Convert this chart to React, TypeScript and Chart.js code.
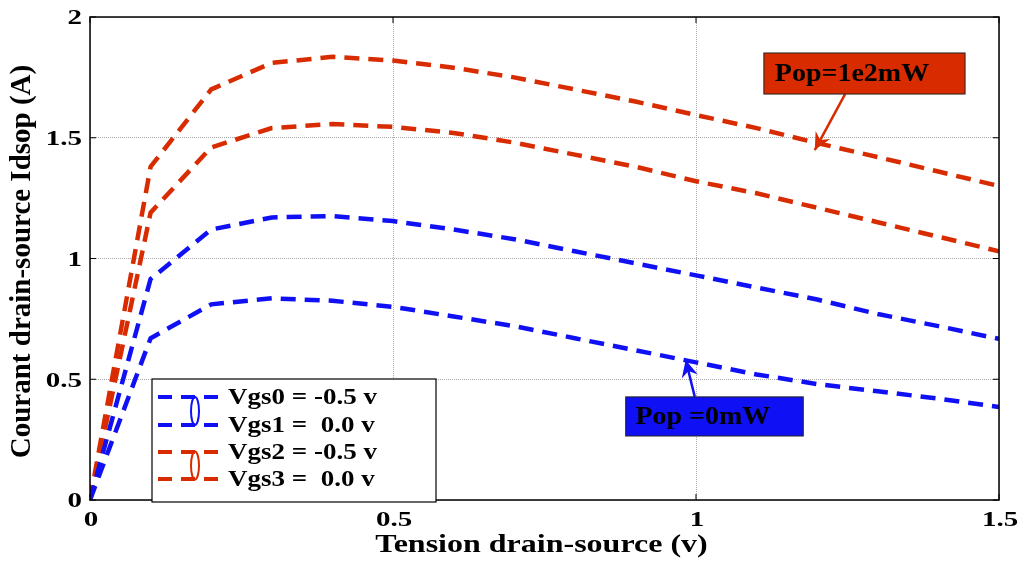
import React, { useEffect, useRef } from "react";
import { Chart, registerables } from "chart.js";

Chart.register(...registerables);

const xValues = [0, 0.1, 0.2, 0.3, 0.4, 0.5, 0.6, 0.7, 0.8, 0.9, 1.0, 1.1, 1.2, 1.3, 1.4, 1.5];
const vgs0 = [0, 0.67, 0.81, 0.835, 0.825, 0.8, 0.76, 0.72, 0.67, 0.62, 0.57, 0.52, 0.48, 0.45, 0.42, 0.385];
const vgs1 = [0, 0.915, 1.12, 1.17, 1.176, 1.155, 1.12, 1.08, 1.03, 0.98, 0.93, 0.88, 0.83, 0.77, 0.72, 0.667];
const vgs2 = [0, 1.19, 1.46, 1.54, 1.557, 1.545, 1.52, 1.48, 1.43, 1.38, 1.32, 1.27, 1.21, 1.15, 1.09, 1.03];
const vgs3 = [0, 1.38, 1.70, 1.81, 1.835, 1.82, 1.79, 1.75, 1.70, 1.65, 1.594, 1.54, 1.478, 1.42, 1.36, 1.30];
const seriesLabels = ["Vgs0 = -0.5 v", "Vgs1 =  0.0 v", "Vgs2 = -0.5 v", "Vgs3 =  0.0 v"];
const xTicks = [0, 0.5, 1, 1.5];
const yTicks = [0, 0.5, 1, 1.5, 2];
const xTitle = "Tension drain-source (v)";
const yTitle = "Courant drain-source Idsop (A)";
const noteRed = "Pop=1e2mW";
const noteBlue = "Pop =0mW";

const BLUE = "#1010f5";
const RED = "#d82c00";
const FONT = "'Liberation Serif', 'Times New Roman', serif";

function txt(
  ctx: CanvasRenderingContext2D,
  s: string,
  x: number,
  y: number,
  size: number,
  align: CanvasTextAlign,
  vs: number,
  rot = 0
) {
  ctx.save();
  ctx.translate(x, y);
  if (rot) ctx.rotate(rot);
  ctx.scale(1, vs);
  ctx.font = `bold ${size}px ${FONT}`;
  ctx.fillStyle = "#000";
  ctx.textAlign = align;
  ctx.textBaseline = "middle";
  ctx.fillText(s, 0, 0);
  ctx.restore();
}

const overlayPlugin = {
  id: "overlay",
  afterDatasetsDraw(chart: any) {
    const ctx = chart.ctx as CanvasRenderingContext2D;
    const { left, right, top, bottom } = chart.chartArea;
    const xs = chart.scales.x;
    const ys = chart.scales.y;
    ctx.save();
    ctx.strokeStyle = "#000";
    ctx.lineWidth = 1.5;
    ctx.strokeRect(left, top, right - left, bottom - top);
    ctx.lineWidth = 1;
    xTicks.forEach((v) => {
      const px = xs.getPixelForValue(v);
      ctx.beginPath();
      ctx.moveTo(px, bottom);
      ctx.lineTo(px, bottom - 6);
      ctx.moveTo(px, top);
      ctx.lineTo(px, top + 6);
      ctx.stroke();
    });
    yTicks.forEach((v) => {
      const py = ys.getPixelForValue(v);
      ctx.beginPath();
      ctx.moveTo(left, py);
      ctx.lineTo(left + 6, py);
      ctx.moveTo(right, py);
      ctx.lineTo(right - 6, py);
      ctx.stroke();
    });

    xTicks.forEach((v) => {
      txt(ctx, String(v), xs.getPixelForValue(v) + 1, bottom + 21, 29, "center", 0.72);
    });
    yTicks.forEach((v) => {
      txt(ctx, String(v), left - 8, ys.getPixelForValue(v) + 2, 29, "right", 0.72);
    });
    txt(ctx, xTitle, (left + right) / 2 - 3, bottom + 46, 32, "center", 0.77);
    txt(ctx, yTitle, 23, (top + bottom) / 2 + 3, 29, "center", 1, -Math.PI / 2);

    const lx = left + 62;
    const lw = 284;
    const lh = 123;
    const ly = bottom + 2 - lh;
    ctx.fillStyle = "#fff";
    ctx.fillRect(lx, ly, lw, lh);
    ctx.strokeStyle = "#000";
    ctx.lineWidth = 1.2;
    ctx.strokeRect(lx, ly, lw, lh);
    const rows = [ly + 18, ly + 46, ly + 73, ly + 100];
    chart.data.datasets.forEach((ds: any, i: number) => {
      const y = rows[i];
      ctx.strokeStyle = ds.borderColor;
      ctx.lineWidth = 4;
      ctx.setLineDash([14, 9]);
      ctx.beginPath();
      ctx.moveTo(lx + 6, y);
      ctx.lineTo(lx + 70, y);
      ctx.stroke();
      ctx.setLineDash([]);
      txt(ctx, ds.label, lx + 76, y + 1, 27, "left", 0.86);
    });
    [[0, BLUE], [2, RED]].forEach(([r, c]: any) => {
      const cy = (rows[r] + rows[r + 1]) / 2;
      ctx.strokeStyle = c;
      ctx.lineWidth = 2;
      ctx.beginPath();
      ctx.ellipse(lx + 43, cy, 4, 14, 0, 0, Math.PI * 2);
      ctx.stroke();
    });

    const drawNote = (x0: number, y0: number, x1: number, y1: number, fill: string, text: string, tail: number[], tip: number[], textX: number) => {
      const px0 = xs.getPixelForValue(x0);
      const py0 = ys.getPixelForValue(y0);
      const px1 = xs.getPixelForValue(x1);
      const py1 = ys.getPixelForValue(y1);
      const tx = xs.getPixelForValue(tail[0]);
      const ty = ys.getPixelForValue(tail[1]);
      const hx = xs.getPixelForValue(tip[0]);
      const hy = ys.getPixelForValue(tip[1]);
      ctx.strokeStyle = fill;
      ctx.fillStyle = fill;
      ctx.lineWidth = 2.5;
      ctx.beginPath();
      ctx.moveTo(tx, ty);
      ctx.lineTo(hx, hy);
      ctx.stroke();
      const ang = Math.atan2(hy - ty, hx - tx);
      const L = 19;
      const W = 0.45;
      ctx.beginPath();
      ctx.moveTo(hx, hy);
      ctx.lineTo(hx - L * Math.cos(ang - W), hy - L * Math.sin(ang - W));
      ctx.lineTo(hx - L * 0.6 * Math.cos(ang), hy - L * 0.6 * Math.sin(ang));
      ctx.lineTo(hx - L * Math.cos(ang + W), hy - L * Math.sin(ang + W));
      ctx.closePath();
      ctx.fill();
      ctx.fillStyle = fill;
      ctx.fillRect(px0, py0, px1 - px0, py1 - py0);
      ctx.strokeStyle = "#222";
      ctx.lineWidth = 1;
      ctx.strokeRect(px0, py0, px1 - px0, py1 - py0);
      txt(ctx, text, xs.getPixelForValue(textX), (py0 + py1) / 2 + 1, 28, "left", 0.88);
    };
    drawNote(1.112, 1.851, 1.444, 1.681, RED, noteRed, [1.246, 1.681], [1.196, 1.449], 1.13);
    drawNote(0.884, 0.427, 1.177, 0.265, BLUE, noteBlue, [0.998, 0.427], [0.983, 0.58], 0.9);
    ctx.restore();
  },
};

export default function App() {
  const ref = useRef<HTMLCanvasElement | null>(null);
  useEffect(() => {
    document.body.style.margin = "0";
    const colors = [BLUE, BLUE, RED, RED];
    const series = [vgs0, vgs1, vgs2, vgs3];
    const chart = new Chart(ref.current as HTMLCanvasElement, {
      type: "line",
      data: {
        datasets: series.map((s, i) => ({
          label: seriesLabels[i],
          data: xValues.map((x, j) => ({ x, y: s[j] })),
          borderColor: colors[i],
          borderWidth: 4.5,
          borderDash: [15, 9],
          pointRadius: 0,
          fill: false,
          tension: 0,
        })),
      },
      options: {
        responsive: false,
        animation: false,
        layout: { padding: { top: 17, right: 26, left: 0, bottom: 0 } },
        plugins: { legend: { display: false }, tooltip: { enabled: false } },
        scales: {
          x: {
            type: "linear",
            min: 0,
            max: 1.5,
            afterBuildTicks: (s: any) => {
              s.ticks = xTicks.map((v) => ({ value: v }));
            },
            afterFit: (s: any) => {
              s.height = 69;
            },
            ticks: { display: false },
            grid: { color: "#a8a8a8", lineWidth: 1, drawTicks: false },
            border: { display: false, dash: [1, 1] },
          },
          y: {
            type: "linear",
            min: 0,
            max: 2,
            afterBuildTicks: (s: any) => {
              s.ticks = yTicks.map((v) => ({ value: v }));
            },
            afterFit: (s: any) => {
              s.width = 90;
            },
            ticks: { display: false },
            grid: { color: "#a8a8a8", lineWidth: 1, drawTicks: false },
            border: { display: false, dash: [1, 1] },
          },
        },
      },
      plugins: [overlayPlugin],
    } as any);
    let alive = true;
    const fonts = (document as any).fonts;
    if (fonts && fonts.load) {
      Promise.all([
        fonts.load(`bold 29px 'Liberation Serif'`),
        fonts.load(`bold 20px 'Liberation Serif'`),
      ])
        .then(() => fonts.ready)
        .then(() => {
          if (alive) chart.update();
        })
        .catch(() => {});
    }
    return () => {
      alive = false;
      chart.destroy();
    };
  }, []);
  return (
    <div style={{ width: 1025, height: 569, overflow: "hidden", fontFamily: "'Liberation Serif'" }}>
      <span style={{ fontFamily: "'Liberation Serif'", fontWeight: "bold", position: "absolute", left: -9999 }}>.</span>
      <canvas ref={ref} width={1025} height={569} style={{ display: "block" }} />
    </div>
  );
}
